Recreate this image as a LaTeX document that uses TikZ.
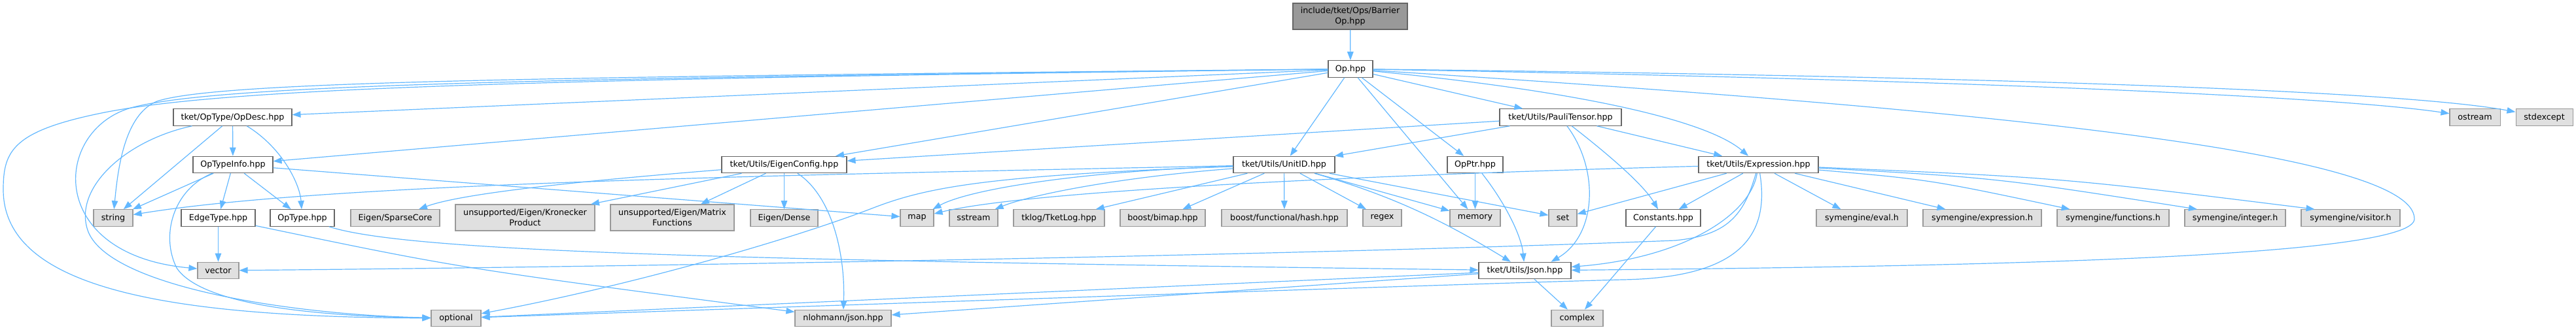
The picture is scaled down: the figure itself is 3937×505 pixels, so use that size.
\documentclass[tikz,border=0pt]{standalone}
\usepackage{fontspec}
\setmainfont{DejaVu Sans}
\usetikzlibrary{arrows.meta}

\definecolor{edgeblue}{HTML}{63B8FF}
\definecolor{rootfill}{HTML}{999999}
\definecolor{hdrline}{HTML}{666666}
\definecolor{sysfill}{HTML}{E0E0E0}
\definecolor{sysline}{HTML}{999999}

\begin{document}
\begin{tikzpicture}[
    x=1pt, y=-1pt,
    hdr/.style={draw=hdrline, fill=white, line width=1.1pt, minimum height=25.5pt,
                inner xsep=2pt, inner ysep=0pt, align=center,
                font=\fontsize{12.7}{15.6}\selectfont},
    sys/.style={hdr, draw=sysline, fill=sysfill},
    root/.style={hdr, fill=rootfill},
    inc/.style={-{Triangle[length=13pt, width=9.5pt]}, draw=edgeblue, line width=1.2pt}]

  \useasboundingbox (0,0) rectangle (3937,505);

  % === Row 1-2: the file and its header ===
  \node[root, minimum width=175pt, minimum height=40pt] (barrier) at (2063.5,25) {include/tket/Ops/Barrier\\Op.hpp};
  \node[hdr, minimum width=68pt] (op) at (2064,105.5) {Op.hpp};

  % === Row 3 ===
  \node[hdr, minimum width=181pt] (opdesc) at (355.5,179.5) {tket/OpType/OpDesc.hpp};
  \node[hdr, minimum width=186pt] (paulitensor) at (2385,179.5) {tket/Utils/PauliTensor.hpp};
  \node[sys, minimum width=77pt] (ostream) at (3782.5,179.5) {ostream};
  \node[sys, minimum width=87pt] (stdexcept) at (3888.5,179.5) {stdexcept};

  % === Row 4 ===
  \node[hdr, minimum width=122pt] (optypeinfo) at (356,252) {OpTypeInfo.hpp};
  \node[hdr, minimum width=191pt] (eigenconfig) at (1198.5,252) {tket/Utils/EigenConfig.hpp};
  \node[hdr, minimum width=155pt] (unitid) at (1962.5,252) {tket/Utils/UnitID.hpp};
  \node[hdr, minimum width=85pt] (opptr) at (2254.5,252) {OpPtr.hpp};
  \node[hdr, minimum width=183pt] (expression) at (2687.5,252) {tket/Utils/Expression.hpp};

  % === Row 5 ===
  \node[sys, minimum width=60pt] (string) at (173,333.5) {string};
  \node[hdr, minimum width=113pt] (edgetype) at (333.5,333.5) {EdgeType.hpp};
  \node[hdr, minimum width=98pt] (optype) at (462,333.5) {OpType.hpp};
  \node[sys, minimum width=136pt] (sparsecore) at (604,333.5) {Eigen/SparseCore};
  \node[sys, minimum width=213pt, minimum height=40pt] (kronecker) at (802.5,333) {unsupported/Eigen/Kronecker\\Product};
  \node[sys, minimum width=189pt, minimum height=40pt] (matrixfn) at (1027.5,333) {unsupported/Eigen/Matrix\\Functions};
  \node[sys, minimum width=103pt] (dense) at (1198.5,333.5) {Eigen/Dense};
  \node[sys, minimum width=51pt] (map) at (1401.5,333.5) {map};
  \node[sys, minimum width=74pt] (sstream) at (1488,333.5) {sstream};
  \node[sys, minimum width=139pt] (tketlog) at (1618.5,333.5) {tklog/TketLog.hpp};
  \node[sys, minimum width=130pt] (bimap) at (1777,333.5) {boost/bimap.hpp};
  \node[sys, minimum width=192pt] (hash) at (1963,333.5) {boost/functional/hash.hpp};
  \node[sys, minimum width=59pt] (regex) at (2112.5,333.5) {regex};
  \node[sys, minimum width=77pt] (memory) at (2254.5,333.5) {memory};
  \node[sys, minimum width=43pt] (set) at (2388.5,333.5) {set};
  \node[hdr, minimum width=114pt] (constants) at (2542,333.5) {Constants.hpp};
  \node[sys, minimum width=139pt] (eval) at (2845.5,333.5) {symengine/eval.h};
  \node[sys, minimum width=181pt] (expressionh) at (3029.5,333.5) {symengine/expression.h};
  \node[sys, minimum width=171pt] (functions) at (3229.5,333.5) {symengine/functions.h};
  \node[sys, minimum width=154pt] (integer) at (3416,333.5) {symengine/integer.h};
  \node[sys, minimum width=151pt] (visitor) at (3592.5,333.5) {symengine/visitor.h};

  % === Row 6-7 ===
  \node[sys, minimum width=63pt] (vector) at (333.5,414) {vector};
  \node[hdr, minimum width=141pt] (json) at (2330.5,414) {tket/Utils/Json.hpp};
  \node[sys, minimum width=76pt] (optional) at (697,487) {optional};
  \node[sys, minimum width=147pt] (nlohmann) at (1288.5,487) {nlohmann/json.hpp};
  \node[sys, minimum width=79pt] (complex) at (2410.5,487) {complex};

  % === Includes of Op.hpp ===
  \draw[inc] (barrier) -- (op);
  \draw[inc] (op) -- (opdesc);
  \draw[inc] (op) -- (optypeinfo);
  \draw[inc] (op) -- (eigenconfig);
  \draw[inc] (op) -- (unitid);
  \draw[inc] (op) -- (memory);
  \draw[inc] (op) -- (opptr);
  \draw[inc] (op) -- (paulitensor);
  \draw[inc] (op) .. controls (2420,140) and (2610,185) .. (expression);
  \draw[inc] (op) .. controls (2900,120) and (3550,145) .. (ostream);
  \draw[inc] (op) .. controls (2900,115) and (3650,135) .. (stdexcept);
  \draw[inc] (op) .. controls (3000,165) and (3690,230) .. (3690,335)
                  .. controls (3690,395) and (3000,408) .. (json);
  \draw[inc] (op) .. controls (800,118) and (330,125) .. (240,155)
                  .. controls (190,175) and (180,260) .. (string);
  \draw[inc] (op) .. controls (800,120) and (330,130) .. (200,165)
                  .. controls (80,200) and (70,390) .. (vector);
  \draw[inc] (op) .. controls (800,121) and (350,135) .. (160,172)
                  .. controls (20,200) and (5,230) .. (5,290)
                  .. controls (5,440) and (250,485) .. (optional);

  % === OpDesc / OpTypeInfo / EdgeType / OpType ===
  \draw[inc] (opdesc) -- (optypeinfo);
  \draw[inc] (opdesc) -- (string);
  \draw[inc] (opdesc) .. controls (430,225) and (458,280) .. (optype);
  \draw[inc] (opdesc) .. controls (190,215) and (110,290) .. (135,355)
                      .. controls (170,440) and (450,482) .. (optional);
  \draw[inc] (optypeinfo) -- (string);
  \draw[inc] (optypeinfo) -- (edgetype);
  \draw[inc] (optypeinfo) -- (optype);
  \draw[inc] (optypeinfo) -- (map);
  \draw[inc] (optypeinfo) .. controls (265,290) and (245,360) .. (270,410)
                          .. controls (310,470) and (500,484) .. (optional);
  \draw[inc] (edgetype) -- (vector);
  \draw[inc] (edgetype) .. controls (700,410) .. (nlohmann);
  \draw[inc] (optype) .. controls (620,385) and (1100,398) .. (json);

  % === EigenConfig ===
  \draw[inc] (eigenconfig) .. controls (850,280) and (700,298) .. (sparsecore);
  \draw[inc] (eigenconfig) -- (kronecker);
  \draw[inc] (eigenconfig) -- (matrixfn);
  \draw[inc] (eigenconfig) -- (dense);
  \draw[inc] (eigenconfig) .. controls (1272,300) and (1292,390) .. (nlohmann);

  % === UnitID ===
  \draw[inc] (unitid) .. controls (1200,268) and (500,280) .. (string);
  \draw[inc] (unitid) .. controls (1650,262) and (1480,290) .. (map);
  \draw[inc] (unitid) .. controls (1520,268) and (1420,285) .. (1335,318)
                      .. controls (1200,370) and (950,440) .. (optional);
  \draw[inc] (unitid) .. controls (1700,272) and (1570,300) .. (sstream);
  \draw[inc] (unitid) -- (tketlog);
  \draw[inc] (unitid) -- (bimap);
  \draw[inc] (unitid) -- (hash);
  \draw[inc] (unitid) -- (regex);
  \draw[inc] (unitid) -- (memory);
  \draw[inc] (unitid) -- (set);
  \draw[inc] (unitid) .. controls (2130,300) and (2210,340) .. (json);

  % === PauliTensor / OpPtr ===
  \draw[inc] (paulitensor) -- (eigenconfig);
  \draw[inc] (paulitensor) -- (unitid);
  \draw[inc] (paulitensor) .. controls (2445,260) and (2440,360) .. ([xshift=40pt]json.north);
  \draw[inc] (paulitensor) .. controls (2450,230) and (2510,280) .. (constants);
  \draw[inc] (paulitensor) -- (expression);
  \draw[inc] (opptr) -- (memory);
  \draw[inc] (opptr) .. controls (2300,310) and (2325,360) .. (json);

  % === Expression ===
  \draw[inc] (expression) .. controls (2300,262) and (1600,285) .. (map);
  \draw[inc] (expression) -- (set);
  \draw[inc] (expression) -- (constants);
  \draw[inc] (expression) -- ([xshift=-32pt]eval.north);
  \draw[inc] (expression) -- ([xshift=-56pt]expressionh.north);
  \draw[inc] (expression) .. controls (2950,275) .. ([xshift=-66pt]functions.north);
  \draw[inc] (expression) .. controls (3050,272) .. ([xshift=-58pt]integer.north);
  \draw[inc] (expression) .. controls (3150,272) .. ([xshift=-55pt]visitor.north);
  \draw[inc] (expression) .. controls (2675,330) and (2570,395) .. (json);
  \draw[inc] (expression) .. controls (2665,330) and (2640,360) .. (2560,368)
                          .. controls (2000,390) and (1000,408) .. (vector);
  \draw[inc] (expression) .. controls (2705,360) and (2660,425) .. (2480,428)
                          .. controls (2250,434) and (1200,470) .. (optional);

  % === Json / Constants ===
  \draw[inc] (json) -- (optional);
  \draw[inc] (json) -- (nlohmann);
  \draw[inc] (json) -- (complex);
  \draw[inc] (constants) -- (complex);

\end{tikzpicture}
\end{document}
